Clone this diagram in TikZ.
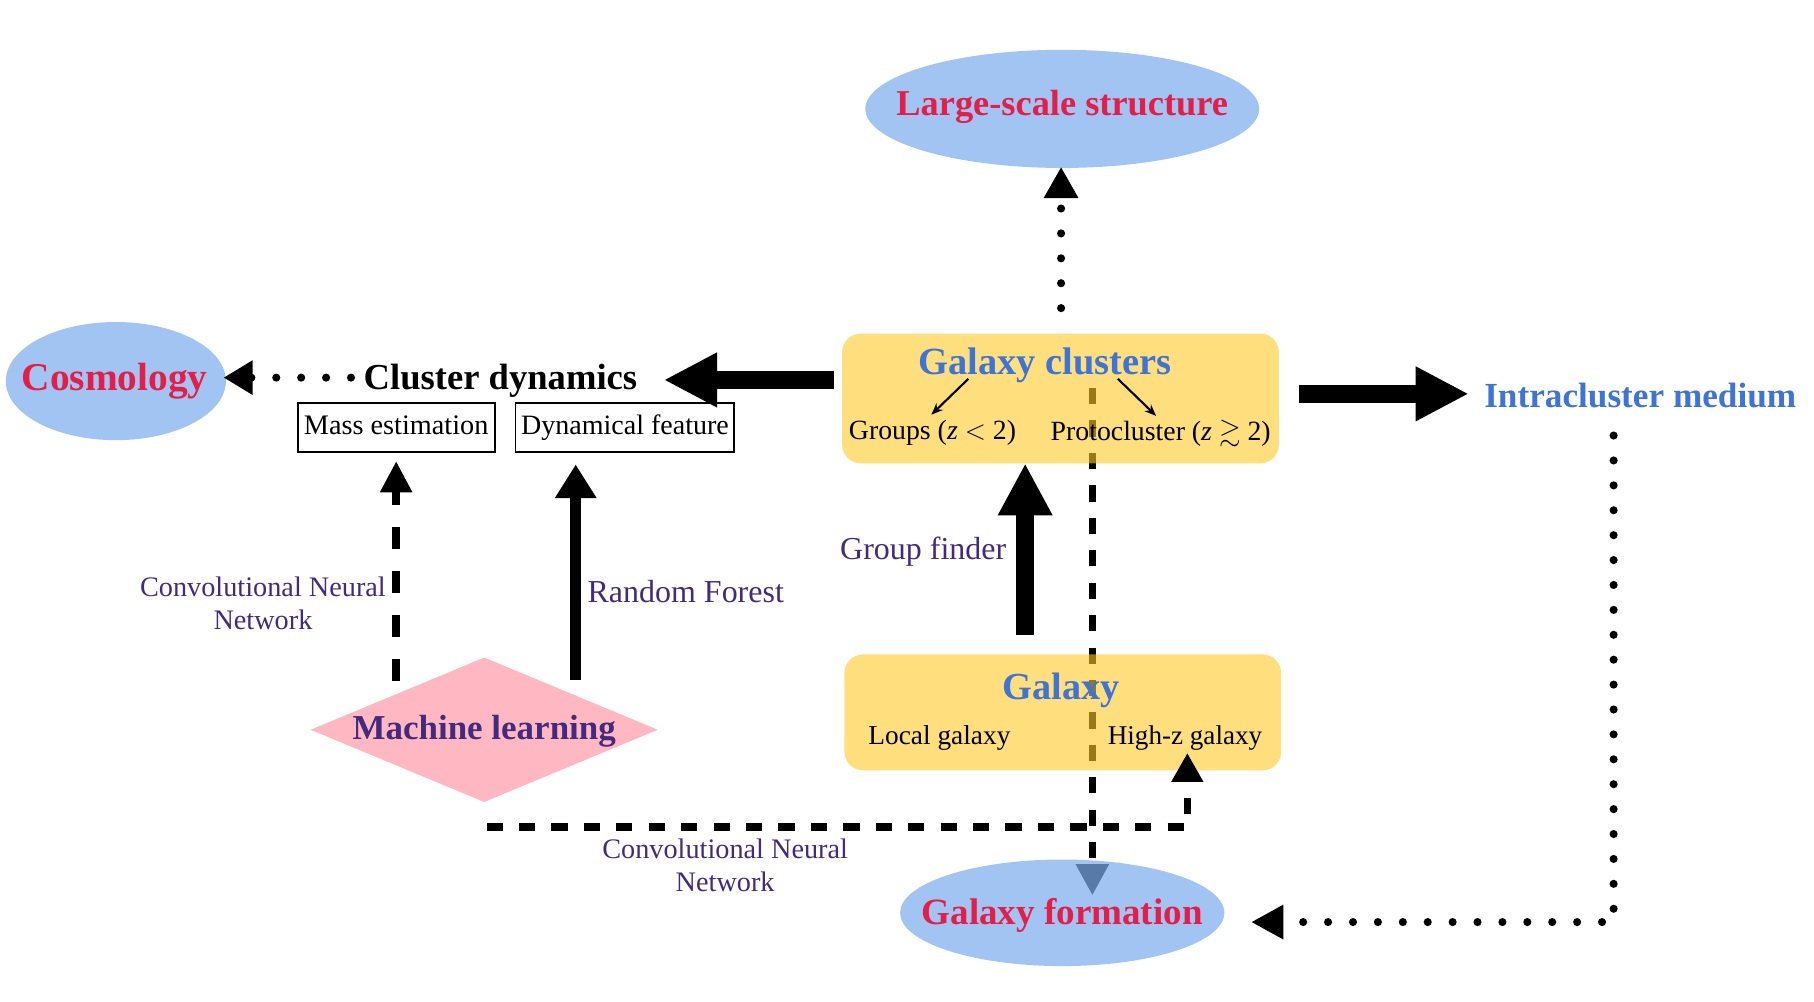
\documentclass[tikz,border=0pt]{standalone}
\usepackage{fontspec}
\usepackage{amssymb}
\setmainfont{Liberation Serif}
\usetikzlibrary{arrows.meta,shapes.geometric,calc}
\definecolor{ellblue}{RGB}{124,172,237}
\definecolor{boxgold}{RGB}{255,200,40}
\definecolor{mlpink}{RGB}{255,184,194}
\definecolor{redtxt}{RGB}{228,30,72}
\definecolor{bluetxt}{RGB}{62,116,214}
\definecolor{purptxt}{RGB}{67,42,127}
\newcommand{\fs}[1]{\fontsize{#1}{1.2\dimexpr #1pt\relax}\selectfont}
\begin{document}
\begin{tikzpicture}[x=0.5pt,y=-0.5pt,
  ell/.style={ellipse, fill=ellblue, fill opacity=0.71, inner sep=0pt},
  goldbox/.style={rounded corners=8pt, fill=boxgold, fill opacity=0.6, inner sep=0pt, minimum width=188.5pt},
  rbox/.style={draw, line width=0.8pt, inner sep=0pt, minimum height=21pt, text height=8.6pt, text depth=2.6pt},
  bigarrow/.style={line width=8pt, -{Triangle[length=23pt,width=22pt]}},
  dotline/.style={line width=3.5pt, line cap=round, dash pattern=on 0pt off 10.75pt},
  dashline/.style={line width=3.3pt, dash pattern=on 7pt off 7pt},
  titletxt/.style={font=\bfseries, inner sep=0pt},
  redtitle/.style={inner sep=0pt, text=redtxt},
  plaintxt/.style={inner sep=0pt},
  purplab/.style={text=purptxt, inner sep=0pt, align=center},
  thinarrow/.style={line width=0.9pt, -{Stealth[length=5pt,width=4pt]}}
]
\useasboundingbox (0,0) rectangle (1566,865);

% coordinates for connector ends
\coordinate (cdS) at (943,335);
\coordinate (cdE) at (943,773);

% central dashed arrow (drawn first, under the translucent boxes)
\draw[dashline, -{Triangle[length=13.5pt,width=13.5pt]}] (cdS) -- (cdE);

% shapes
\node[ell, minimum width=170pt, minimum height=51pt] (lss) at (917,94) {};
\node[ell, minimum width=95pt, minimum height=51pt] (cosmo) at (100,329) {};
\node[ell, minimum width=140pt, minimum height=46pt] (gform) at (917,788) {};
\node[goldbox, minimum height=56pt] (gc) at (915.5,344) {};
\node[goldbox, minimum height=50pt] (gal) at (917.5,615) {};
\node[diamond, fill=mlpink, minimum width=150pt, minimum height=62.5pt, inner sep=0pt] (ml) at (418,630) {};

% texts
\node[redtitle, font=\bfseries\fs{15.7}] (lsstxt) at (917,92) {Large-scale structure};
\node[redtitle, font=\bfseries\fs{17}] (cosmotxt) at (99,329) {Cosmology};
\node[redtitle, font=\bfseries\fs{16}] (gformtxt) at (917,790) {Galaxy formation};
\node[titletxt, text=purptxt, font=\bfseries\fs{15.1}] (mltxt) at (418,631) {Machine learning};

\node[titletxt, font=\bfseries\fs{15.8}] (cd) at (432,329) {Cluster dynamics};
\node[rbox, minimum width=85pt, font=\fs{12.2}] (mass) at (342,369) {Mass estimation};
\node[rbox, minimum width=94.5pt, font=\fs{12.1}] (dyn) at (539.5,369) {Dynamical feature};

\node[titletxt, text=bluetxt, font=\bfseries\fs{16.6}] (gctxt) at (902,315) {Galaxy clusters};
\node[plaintxt, font=\fs{12}] (groups) at (805,374) {Groups (\textit{z} $<$ 2)};
\node[plaintxt, font=\fs{12}] (proto) at (1002,374) {Protocluster (\textit{z} $\gtrsim$ 2)};

\node[titletxt, text=bluetxt, font=\bfseries\fs{16.5}] (galtxt) at (916,596) {Galaxy};
\node[plaintxt, font=\fs{11.8}] (local) at (811,637) {Local galaxy};
\node[plaintxt, font=\fs{11.7}] (highz) at (1023,637) {High-z galaxy};

\node[titletxt, text=bluetxt, font=\bfseries\fs{15.2}] (icm) at (1416,341) {Intracluster medium};

\node[purplab, font=\fs{13.8}] (gfind) at (797,476) {Group finder};
\node[purplab, font=\fs{13.8}] (rf) at (592,511) {Random Forest};
\node[purplab, font=\fontsize{12.2}{14.5}\selectfont] (cnn1) at (227,521) {Convolutional Neural\\Network};
\node[purplab, font=\fontsize{12.2}{14.5}\selectfont] (cnn2) at (626,747) {Convolutional Neural\\Network};

% connector end coordinates
\coordinate (bl1) at (720,328);  \coordinate (bl2) at (573,328);
\coordinate (br1) at (1121,340); \coordinate (br2) at (1268,340);
\coordinate (gf1) at (885,548);  \coordinate (gf2) at (885,400);
\coordinate (ls1) at (916,266);  \coordinate (ls2) at (916,144);
\coordinate (co1) at (303,326);  \coordinate (co2) at (193,326);
\coordinate (ic1) at (1393,376); \coordinate (ic2) at (1393,796); \coordinate (ic3) at (1080,796);
\coordinate (ms1) at (342,588);  \coordinate (ms2) at (342,398);
\coordinate (dy1) at (497,587);  \coordinate (dy2) at (497,401);
\coordinate (ml1) at (420,714);  \coordinate (ml2) at (1025,714); \coordinate (ml3) at (1025,650);
\coordinate (ga1) at (836,327);  \coordinate (ga2) at (804,358);
\coordinate (gb1) at (965,327);  \coordinate (gb2) at (998,359);

% connectors
\draw[bigarrow] (bl1) -- (bl2);
\draw[bigarrow] (br1) -- (br2);
\draw[line width=8pt, -{Triangle[length=22.5pt,width=22pt]}] (gf1) -- (gf2);
\draw[dotline, -{Triangle[length=13.5pt,width=14pt]}] (ls1) -- (ls2);
\draw[dotline, -{Triangle[length=12.5pt,width=14pt]}] (co1) -- (co2);
\draw[dotline, -{Triangle[length=14pt,width=14pt]}] (ic1) -- (ic2) -- (ic3);
\draw[line width=3.5pt, dash pattern=on 9.5pt off 9.5pt, -{Triangle[length=13.5pt,width=13pt]}] (ms1) -- (ms2);
\draw[line width=4.6pt, -{Triangle[length=14.5pt,width=17pt]}] (dy1) -- (dy2);
\draw[dashline, -{Triangle[length=12.5pt,width=13pt]}] (ml1) -- (ml2) -- (ml3);
\draw[thinarrow] (ga1) -- (ga2);
\draw[thinarrow] (gb1) -- (gb2);
\end{tikzpicture}
\end{document}
